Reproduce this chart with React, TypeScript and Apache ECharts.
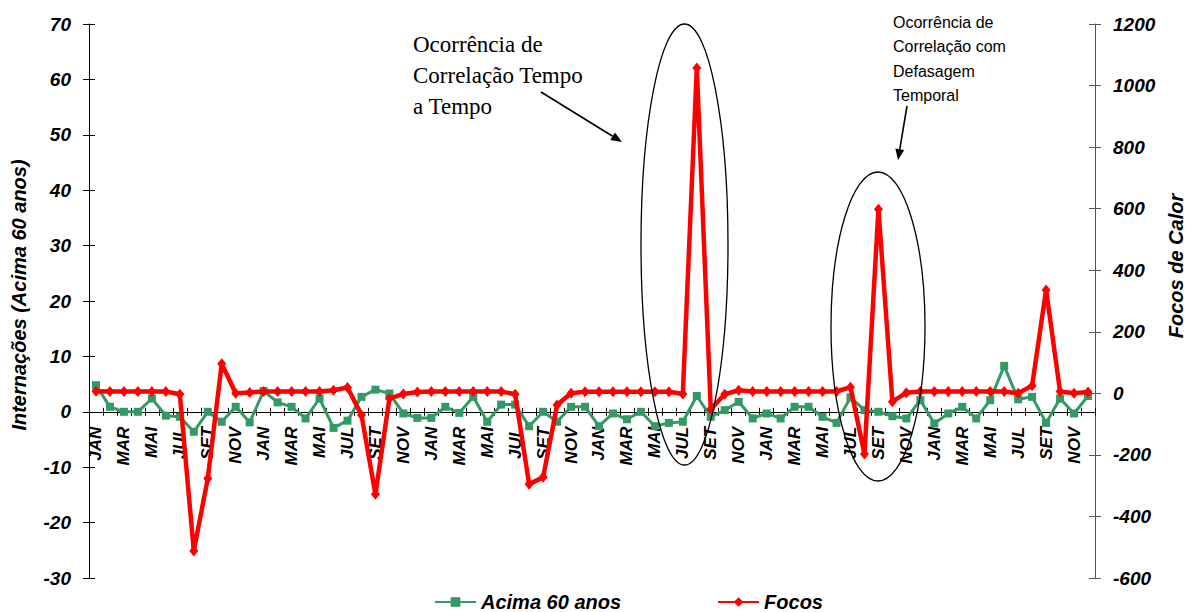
import React, { useEffect, useRef } from "react";
import * as echarts from "echarts";

const months = ["JAN", "FEV", "MAR", "ABR", "MAI", "JUN", "JUL", "AGO", "SET", "OUT", "NOV", "DEZ"];
const years = ["1", "2", "3", "4", "5", "6"];
const categories = years.flatMap((y) => months.map((m) => `${m} ${y}`));

const acima60 = [
  4.8, 0.9, 0, 0, 2.4, -0.7, -0.9, -3.6, 0, -1.8, 0.9, -1.9,
  3.75, 1.7, 0.9, -1.2, 2.4, -2.9, -1.6, 2.7, 4.0, 3.3, -0.3, -1.1,
  -1.1, 0.9, -0.2, 2.7, -1.8, 1.3, 1.3, -2.6, 0, -1.8, 0.9, 0.9,
  -2.6, -0.3, -1.35, 0, -2.6, -2.0, -1.8, 2.85, -0.9, 0.3, 1.8, -1.2,
  -0.3, -1.2, 0.9, 0.9, -0.9, -2.0, 2.6, 0.3, 0, -0.8, -1.2, 2.1,
  -2.1, -0.3, 0.9, -1.2, 2.1, 8.3, 2.25, 2.7, -2.0, 2.4, -0.3, 2.85,
];

const focos = [
  7, 6, 6, 6, 6, 6, -3, -512, -277, 96, 0, 3,
  6, 6, 6, 6, 6, 10, 19, -70, -328, -17, -2, 4,
  6, 6, 6, 6, 6, 6, -3, -295, -273, -38, 0, 5,
  5, 5, 5, 5, 5, 5, -2, 1057, -52, -3, 10, 6,
  6, 6, 6, 6, 6, 6, 20, -197, 598, -27, 2, 6,
  6, 6, 6, 6, 6, 6, 0, 25, 336, 6, 0, 4,
];

const leftTicks = { min: -30, max: 70, interval: 10 };
const rightTicks = { min: -600, max: 1200, interval: 200 };

const SANS = "'Liberation Sans', Arial, Helvetica, sans-serif";
const SERIF = "'Liberation Serif', 'Times New Roman', serif";

// plot box
const GL = 89;
const GR = 91;
const GT = 24;
const GB = 34;
const H = 612;
// y pixel of the left axis zero (where the category axis sits)
const zeroY = GT + ((H - GT - GB) * leftTicks.max) / (leftTicks.max - leftTicks.min);

function arrow(x1: number, y1: number, x2: number, y2: number, head = 11, halfW = 4.5) {
  const dx = x2 - x1;
  const dy = y2 - y1;
  const L = Math.hypot(dx, dy);
  const ux = dx / L;
  const uy = dy / L;
  const bx = x2 - ux * head;
  const by = y2 - uy * head;
  const px = -uy * halfW;
  const py = ux * halfW;
  return [
    { type: "line", shape: { x1, y1, x2: bx, y2: by }, style: { stroke: "#000", lineWidth: 1.6 } },
    {
      type: "polygon",
      shape: { points: [[x2, y2], [bx + px, by + py], [bx - px, by - py]] },
      style: { fill: "#000" },
    },
  ];
}

const boldItalic = { fontWeight: "bold", fontStyle: "italic", color: "#000", fontFamily: SANS } as const;

export default function App() {
  const ref = useRef<HTMLDivElement>(null);
  useEffect(() => {
    const chart = echarts.init(ref.current!, null, { renderer: "svg" });
    const option: any = {
      animation: false,
      backgroundColor: "#fff",
      grid: [
        { left: GL, right: GR, top: GT, bottom: GB, containLabel: false, outerBoundsMode: "none" },
        { left: GL, right: GR, top: GT, bottom: H - zeroY, containLabel: false, outerBoundsMode: "none" },
      ],
      legend: {
        data: ["Acima 60 anos", "Focos"],
        left: 429,
        top: 587,
        padding: 5,
        itemWidth: 41,
        itemHeight: 12,
        itemGap: 96,
        textStyle: { ...boldItalic, fontSize: 20 },
      },
      xAxis: [
        {
          type: "category",
          gridIndex: 0,
          data: categories,
          boundaryGap: true,
          show: false,
        },
        {
          type: "category",
          gridIndex: 1,
          position: "bottom",
          data: categories,
          boundaryGap: true,
          axisLine: { show: true, onZero: false, lineStyle: { color: "#000", width: 1 } },
          axisTick: { show: true, interval: 0, length: 4, lineStyle: { color: "#000" } },
          axisLabel: {
            ...boldItalic,
            interval: 1,
            rotate: 90,
            margin: 15,
            fontSize: 17,
            formatter: (v: string) => v.split(" ")[0],
          },
          splitLine: { show: false },
        },
        {
          type: "category",
          gridIndex: 1,
          position: "bottom",
          data: categories,
          boundaryGap: true,
          axisLine: { show: false, onZero: false },
          axisTick: { show: true, inside: true, interval: 0, length: 4, lineStyle: { color: "#000" } },
          axisLabel: { show: false },
          splitLine: { show: false },
        },
      ],
      yAxis: [
        {
          type: "value",
          gridIndex: 0,
          position: "left",
          ...leftTicks,
          axisLine: { show: true, lineStyle: { color: "#000" } },
          axisTick: { show: true, length: 6, lineStyle: { color: "#000" } },
          axisLabel: { ...boldItalic, fontSize: 19, margin: 18, formatter: (v: number) => String(v) },
          splitLine: { show: false },
        },
        {
          type: "value",
          gridIndex: 0,
          position: "right",
          ...rightTicks,
          axisLine: { show: true, lineStyle: { color: "#555" } },
          axisTick: { show: true, length: 6, lineStyle: { color: "#555" } },
          axisLabel: { ...boldItalic, fontSize: 19, margin: 18, formatter: (v: number) => String(v) },
          splitLine: { show: false },
        },
        {
          type: "value",
          gridIndex: 0,
          position: "left",
          ...leftTicks,
          axisLine: { show: false },
          axisTick: { show: true, inside: true, length: 6, lineStyle: { color: "#000" } },
          axisLabel: { show: false },
          splitLine: { show: false },
        },
        {
          type: "value",
          gridIndex: 0,
          position: "right",
          ...rightTicks,
          axisLine: { show: false },
          axisTick: { show: true, inside: true, length: 6, lineStyle: { color: "#555" } },
          axisLabel: { show: false },
          splitLine: { show: false },
        },
        {
          type: "value",
          gridIndex: 1,
          min: 0,
          max: 1,
          show: false,
        },
      ],
      series: [
        {
          name: "Acima 60 anos",
          type: "line",
          data: acima60,
          xAxisIndex: 0,
          yAxisIndex: 0,
          color: "#339966",
          symbol: "rect",
          symbolSize: 8,
          showSymbol: true,
          showAllSymbol: true,
          lineStyle: { width: 3, color: "#339966" },
          itemStyle: { color: "#339966" },
          z: 3,
        },
        {
          name: "Focos",
          type: "line",
          data: focos,
          xAxisIndex: 0,
          yAxisIndex: 1,
          color: "#FF0000",
          symbol: "diamond",
          symbolSize: [9, 11],
          showSymbol: true,
          showAllSymbol: true,
          lineStyle: { width: 4.5, color: "#FF0000" },
          itemStyle: { color: "#FF0000" },
          z: 4,
        },
      ],
      graphic: [
        {
          type: "ellipse",
          shape: { cx: 684.5, cy: 244.5, rx: 43.5, ry: 220.5 },
          style: { fill: "none", stroke: "#000", lineWidth: 1.3 },
          z: 10,
        },
        {
          type: "ellipse",
          shape: { cx: 878, cy: 326.5, rx: 47, ry: 154.5 },
          style: { fill: "none", stroke: "#000", lineWidth: 1.3 },
          z: 10,
        },
        ...arrow(541, 92, 622, 142).map((e) => ({ ...e, z: 10 })),
        ...arrow(907, 106, 898, 160).map((e) => ({ ...e, z: 10 })),
        {
          type: "text",
          x: 413,
          y: 29,
          z: 10,
          style: {
            text: "Ocorrência de\nCorrelação Tempo\na Tempo",
            fontFamily: SERIF,
            fontSize: 23,
            lineHeight: 31,
            fill: "#000",
            align: "left",
            verticalAlign: "top",
          },
        },
        {
          type: "text",
          x: 893,
          y: 10,
          z: 10,
          style: {
            text: "Ocorrência de\nCorrelação com\nDefasagem\nTemporal",
            fontFamily: SANS,
            fontSize: 16,
            lineHeight: 24.5,
            fill: "#000",
            align: "left",
            verticalAlign: "top",
          },
        },
        {
          type: "text",
          x: 19,
          y: 295,
          rotation: Math.PI / 2,
          z: 10,
          style: {
            text: "Internações (Acima 60 anos)",
            fontFamily: SANS,
            fontSize: 20,
            fontWeight: "bold",
            fontStyle: "italic",
            fill: "#000",
            align: "center",
            verticalAlign: "middle",
          },
        },
        {
          type: "text",
          x: 1176,
          y: 266,
          rotation: Math.PI / 2,
          z: 10,
          style: {
            text: "Focos de Calor",
            fontFamily: SANS,
            fontSize: 20,
            fontWeight: "bold",
            fontStyle: "italic",
            fill: "#000",
            align: "center",
            verticalAlign: "middle",
          },
        },
      ],
    };
    chart.setOption(option);
    return () => chart.dispose();
  }, []);
  return (
    <div
      ref={ref}
      style={{ position: "fixed", left: 0, top: 0, width: 1186, height: 612, background: "#fff" }}
    />
  );
}
